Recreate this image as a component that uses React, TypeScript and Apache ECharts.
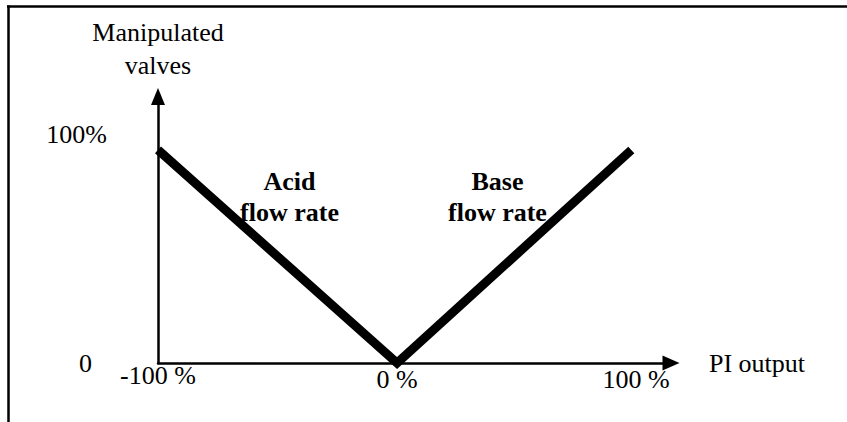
import React, { useEffect, useRef } from "react";
import * as echarts from "echarts";

// ---- data ----
const lineX = [-100, 0, 98];
const lineY = [100, 0, 100];
const xTickValues = [-100, 0, 100];
const xTickLabels = ["-100 %", "0 %", "100 %"];
const yTickValues = [0, 100];
const yTickLabels = ["0", "100%"];
const annotationTexts = ["Acid\nflow rate", "Base\nflow rate"];
const annotationX = [-45, 42];
const annotationY = [78, 78];
const xAxisName = "PI output";
const yAxisName = "Manipulated\nvalves";

const FONT = "'Liberation Serif', 'Times New Roman', serif";

export default function App() {
  const ref = useRef<HTMLDivElement>(null);
  useEffect(() => {
    if (!ref.current) return;
    const chart = echarts.init(ref.current, undefined, { renderer: "svg" });
    const lineData = lineX.map((x, i) => [x, lineY[i]]);
    const annData = annotationX.map((x, i) => ({
      value: [x, annotationY[i]],
      label: { formatter: annotationTexts[i] },
    }));
    chart.setOption({
      animation: false,
      backgroundColor: "#fff",
      textStyle: { fontFamily: FONT, color: "#000" },
      grid: { left: 158, right: 176, top: 96.5, bottom: 59, containLabel: false },
      xAxis: {
        type: "value",
        min: -100,
        max: 114.6,
        interval: 100,
        name: xAxisName,
        nameLocation: "end",
        nameGap: 38,
        nameTextStyle: { fontFamily: FONT, fontSize: 26, color: "#000", verticalAlign: "middle" },
        axisLine: {
          show: true,
          onZero: false,
          symbol: ["none", "triangle"],
          symbolSize: [15, 17],
          lineStyle: { color: "#000", width: 2.5 },
        },
        axisTick: { show: false },
        splitLine: { show: false },
        axisLabel: {
          show: true,
          margin: -1,
          showMaxLabel: false,
          fontFamily: FONT,
          fontSize: 26,
          color: "#000",
          formatter: (v: number) => {
            const i = xTickValues.indexOf(v);
            if (i < 0) return "";
            return v === -100 ? `{a|${xTickLabels[i]}}` : `{b|${xTickLabels[i]}}`;
          },
          rich: {
            a: { fontFamily: FONT, fontSize: 26, color: "#000" },
            b: { fontFamily: FONT, fontSize: 26, color: "#000", padding: [4, 0, 0, 0] },
          },
        },
      },
      yAxis: {
        type: "value",
        min: 0,
        max: 125.1,
        interval: 100,
        name: yAxisName,
        nameLocation: "end",
        nameGap: 15,
        nameTextStyle: {
          fontFamily: FONT,
          fontSize: 26,
          color: "#000",
          lineHeight: 33,
          align: "center",
        },
        axisLine: {
          show: true,
          onZero: false,
          symbol: ["none", "triangle"],
          symbolSize: [14, 17],
          lineStyle: { color: "#000", width: 2.5 },
        },
        axisTick: { show: false },
        splitLine: { show: false },
        axisLabel: {
          show: true,
          margin: 51,
          showMaxLabel: false,
          fontFamily: FONT,
          fontSize: 26,
          color: "#000",
          formatter: (v: number) => {
            const i = yTickValues.indexOf(v);
            if (i < 0) return "";
            return v === 0 ? `{z|${yTickLabels[i]}}` : `{h|${yTickLabels[i]}}`;
          },
          rich: {
            z: { fontFamily: FONT, fontSize: 26, color: "#000", padding: [0, 15, 0, 0] },
            h: { fontFamily: FONT, fontSize: 26, color: "#000", padding: [0, 0, 30, 0] },
          },
        },
      },
      series: [
        {
          type: "line",
          data: lineData,
          showSymbol: false,
          symbol: "none",
          clip: false,
          z: 5,
          lineStyle: { color: "#000", width: 9, cap: "butt", join: "miter" },
        },
        {
          type: "scatter",
          data: annData,
          symbol: "circle",
          symbolSize: 1,
          itemStyle: { color: "rgba(0,0,0,0)", opacity: 1 },
          z: 6,
          label: {
            show: true,
            position: "inside",
            fontFamily: FONT,
            fontSize: 26,
            fontWeight: "bold",
            color: "#000",
            textBorderWidth: 0,
            textBorderColor: "transparent",
            lineHeight: 31,
            align: "center",
            verticalAlign: "middle",
          },
        },
      ],
      graphic: [
        {
          type: "line",
          shape: { x1: 7, y1: 6.5, x2: 847, y2: 6.5 },
          style: { stroke: "#000", lineWidth: 2.5 },
        },
        {
          type: "line",
          shape: { x1: 8.5, y1: 5.5, x2: 8.5, y2: 422 },
          style: { stroke: "#000", lineWidth: 2.5 },
        },
      ],
    });
    return () => chart.dispose();
  }, []);
  return (
    <div
      ref={ref}
      style={{ position: "fixed", left: 0, top: 0, width: 847, height: 422, background: "#fff" }}
    />
  );
}
